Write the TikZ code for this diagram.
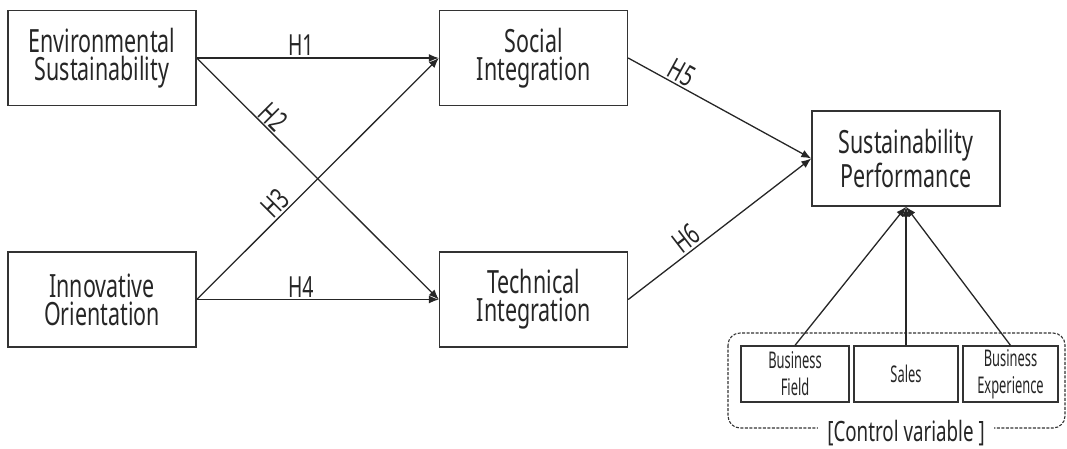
\documentclass[tikz,border=0pt]{standalone}
\usepackage{fontspec}
\setmainfont{Noto Sans}[FakeStretch=0.67]
\newfontfamily\ctrlfont{Noto Sans}[FakeStretch=0.56]
\usetikzlibrary{arrows.meta}
\tikzset{
  box/.style={draw=black!80, line width=1.4pt, minimum width=188pt, minimum height=95pt,
    align=center, font=\fontsize{32}{28}\selectfont, text=black!85, inner sep=0pt},
  ctrlbox/.style={draw=black!80, line width=1.3pt, minimum height=56pt,
    align=center, font=\ctrlfont\fontsize{23}{27}\selectfont, text=black!85, inner sep=0pt},
  hpath/.style={draw=black!85, line width=1.3pt, -{Latex[length=10pt,width=8pt]}},
  hyp/.style={font=\fontsize{29}{29}\selectfont, text=black!85, inner sep=1.5pt, sloped, above},
}
\begin{document}
\begin{tikzpicture}[x=1pt,y=-1pt]
\useasboundingbox (0,0) rectangle (1067,448);

% constructs
\node[box] (env)  at (102,58)    {Environmental\\Sustainability};
\node[box] (soc)  at (533.5,58)  {Social\\Integration};
\node[box] (inn)  at (102,299.5) {Innovative\\Orientation};
\node[box] (tech) at (533.5,299.5) {Technical\\Integration};
\node[box] (perf) at (906,158.5) {Sustainability\\Performance};

% control variables
\draw[black!80, line width=1.1pt, dashed, dash pattern=on 3pt off 1.5pt, rounded corners=12pt]
  (728,333) rectangle (1065,428);
\node[ctrlbox, minimum width=108pt] (field) at (795,374)    {Business\\Field};
\node[ctrlbox, minimum width=104pt] (sales) at (906,374)    {Sales};
\node[ctrlbox, minimum width=95pt]  (exp)   at (1010.5,374) {Business\\Experience};
\node[fill=white, font=\fontsize{28}{28}\selectfont, text=black!85, inner xsep=9pt, inner ysep=0pt] (ctrl) at (906,433) {[Control variable ]};

% hypothesised paths
\draw[hpath] (env.east) -- node[hyp, pos=0.43] (h1) {H1} (soc.west);
\draw[hpath] (env.east) -- node[hyp, pos=0.28] (h2) {H2} (tech.west);
\draw[hpath] (inn.east) -- node[hyp, pos=0.36] (h3) {H3} (soc.west);
\draw[hpath] (inn.east) -- node[hyp, pos=0.43] (h4) {H4} (tech.west);
\draw[hpath] (soc.east) -- node[hyp, pos=0.26] (h5) {H5} (perf.west);
\draw[hpath] (tech.east) -- node[hyp, pos=0.36] (h6) {H6} (perf.west);

% control effects
\draw[hpath] (field.north) -- (perf.south);
\draw[hpath] (sales.north) -- (perf.south);
\draw[hpath] (exp.north) -- (perf.south);
\end{tikzpicture}
\end{document}
